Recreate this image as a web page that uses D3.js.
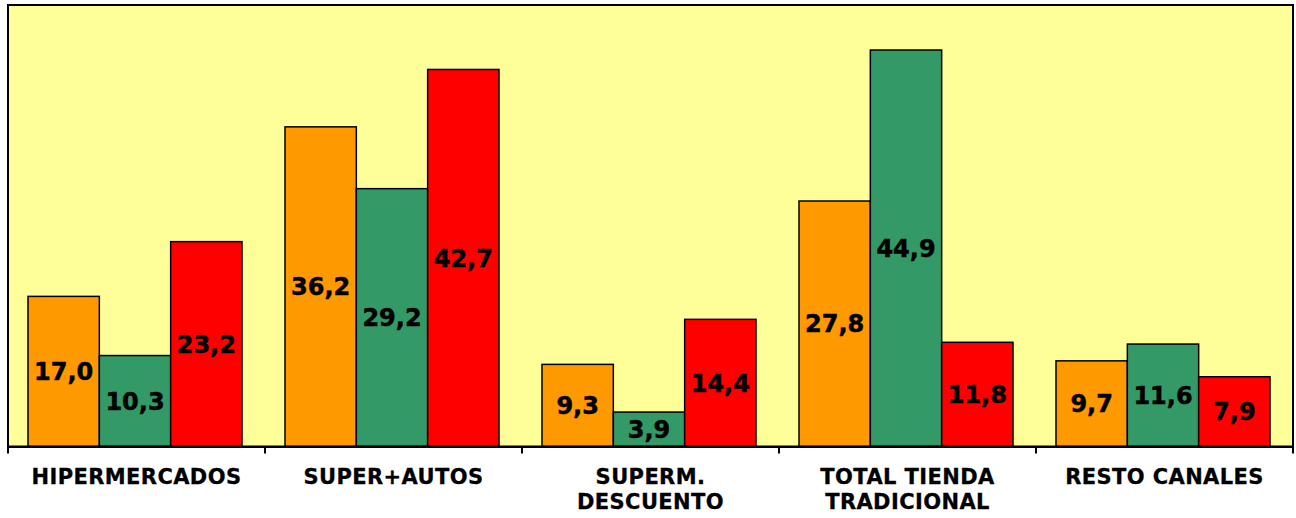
<!DOCTYPE html>
<html><head><meta charset="utf-8">
<script src="https://cdn.jsdelivr.net/npm/d3@7"></script>
<style>html,body{margin:0;padding:0;background:#fff;}svg{display:block;}</style>
</head><body>
<svg id="chart" width="1296" height="518"></svg>
<script>
const categories = [["HIPERMERCADOS"], ["SUPER+AUTOS"], ["SUPERM.", "DESCUENTO"], ["TOTAL TIENDA", "TRADICIONAL"], ["RESTO CANALES"]];
const seriesNames = ["Serie 1", "Serie 2", "Serie 3"];
const serie1 = [17.0, 36.2, 9.3, 27.8, 9.7];
const serie2 = [10.3, 29.2, 3.9, 44.9, 11.6];
const serie3 = [23.2, 42.7, 14.4, 11.8, 7.9];
const colors = ["#FF9900", "#339966", "#FF0000"];
const yDomain = [0, 50];

(function () {
const series = [serie1, serie2, serie3];
const svg = d3.select("#chart");
const pLeft = 8, pRight = 1293, pTop = 5, pBottom = 446.5;
const keys = categories.map((c, i) => i);
const x0 = d3.scaleBand().domain(keys).range([pLeft, pRight]).paddingInner(0).paddingOuter(0);
const x1 = d3.scaleBand().domain(seriesNames).range([20, x0.bandwidth() - 23]).padding(0);
const y = d3.scaleLinear().domain(yDomain).range([pBottom, pTop]);

svg.append("rect").attr("x", pLeft).attr("y", pTop).attr("width", pRight - pLeft).attr("height", pBottom - pTop)
  .attr("fill", "#FFFF99");

const fmt = v => v.toFixed(1).replace(".", ",");

const g = svg.append("g");
keys.forEach(ci => {
  seriesNames.forEach((s, si) => {
    const v = series[si][ci];
    const bx = x0(ci) + x1(s);
    g.append("rect").attr("x", bx).attr("y", y(v)).attr("width", x1.bandwidth()).attr("height", y(0) - y(v))
      .attr("fill", colors[si]).attr("stroke", "#000").attr("stroke-width", 1.5);
  });
});
keys.forEach(ci => {
  seriesNames.forEach((s, si) => {
    const v = series[si][ci];
    const bx = x0(ci) + x1(s) + x1.bandwidth() / 2;
    g.append("text").attr("x", bx).attr("y", (y(v) + y(0)) / 2).attr("dy", "0.36em")
      .attr("text-anchor", "middle").attr("font-family", "Verdana, 'DejaVu Sans', sans-serif")
      .attr("font-weight", "bold").attr("font-size", 24).attr("fill", "#000")
      .attr("stroke", "#000").attr("stroke-width", 0.5).text(fmt(v));
  });
});

svg.append("rect").attr("x", pLeft).attr("y", pTop).attr("width", pRight - pLeft).attr("height", pBottom - pTop)
  .attr("fill", "none").attr("stroke", "#000").attr("stroke-width", 2);

const axis = d3.axisBottom(x0).tickSize(0).tickFormat("");
const ax = svg.append("g").attr("transform", `translate(0,${pBottom})`).call(axis);
ax.select(".domain").attr("stroke", "#000").attr("stroke-width", 2);
const ticks = keys.map(k => x0(k)).concat([pRight]);
ax.selectAll("line.sep").data(ticks).enter().append("line").attr("class", "sep")
  .attr("x1", d => d).attr("x2", d => d).attr("y1", 0).attr("y2", 7).attr("stroke", "#000").attr("stroke-width", 2);

keys.forEach(ci => {
  const t = svg.append("text").attr("text-anchor", "middle")
    .attr("font-family", "Verdana, 'DejaVu Sans', sans-serif").attr("font-weight", "bold")
    .attr("font-size", 21).attr("letter-spacing", 0.4).attr("fill", "#000")
    .attr("stroke", "#000").attr("stroke-width", 0.3);
  categories[ci].forEach((line, li) => {
    t.append("tspan").attr("x", x0(ci) + x0.bandwidth() / 2).attr("y", 484 + li * 25).text(line);
  });
});
})();
</script>
</body></html>
